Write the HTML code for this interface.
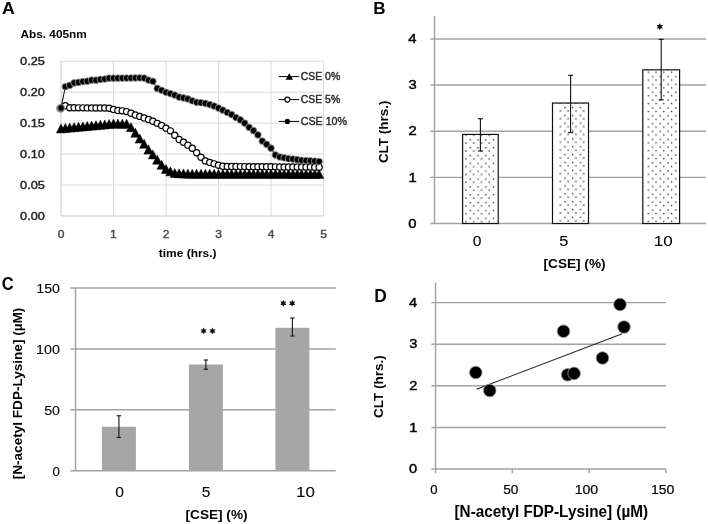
<!DOCTYPE html>
<html><head><meta charset="utf-8"><style>
html,body{margin:0;padding:0;background:#fff;}
svg{display:block;filter:grayscale(1);}
text{font-family:"Liberation Sans", sans-serif;}
</style></head><body>
<svg width="708" height="524" viewBox="0 0 708 524">
<rect width="708" height="524" fill="#fff"/>
<g stroke="#d9d9d9" stroke-width="1" fill="none">
<line x1="61" y1="185.05" x2="323.50" y2="185.05"/>
<line x1="61" y1="154.10" x2="323.50" y2="154.10"/>
<line x1="61" y1="123.15" x2="323.50" y2="123.15"/>
<line x1="61" y1="92.20" x2="323.50" y2="92.20"/>
<line x1="61" y1="61.25" x2="323.50" y2="61.25"/>
<line x1="113.50" y1="61.25" x2="113.50" y2="216.00"/>
<line x1="166.00" y1="61.25" x2="166.00" y2="216.00"/>
<line x1="218.50" y1="61.25" x2="218.50" y2="216.00"/>
<line x1="271.00" y1="61.25" x2="271.00" y2="216.00"/>
<line x1="323.50" y1="61.25" x2="323.50" y2="216.00"/>
</g>
<g stroke="#c8c8c8" stroke-width="1"><line x1="61.00" y1="61.25" x2="61.00" y2="216.00"/><line x1="61.00" y1="216.00" x2="323.50" y2="216.00"/></g>
<polyline points="61.00,128.41 65.38,128.01 69.75,127.61 74.12,127.20 78.50,126.80 82.88,126.40 87.25,126.00 91.62,125.60 96.00,125.19 100.38,124.79 104.75,124.39 109.12,123.99 113.50,123.58 117.88,123.65 122.25,123.71 126.62,123.77 131.00,127.15 135.38,132.70 139.75,138.62 144.12,143.78 148.50,149.55 152.88,154.44 157.25,159.63 161.62,164.85 166.00,168.91 170.38,171.36 174.75,173.01 179.12,173.31 183.50,173.47 187.88,173.63 192.25,173.78 196.62,173.79 201.00,173.79 205.38,173.80 209.75,173.80 214.12,173.80 218.50,173.81 222.88,173.81 227.25,173.82 231.62,173.82 236.00,173.83 240.38,173.83 244.75,173.83 249.12,173.84 253.50,173.84 257.88,173.85 262.25,173.85 266.62,173.85 271.00,173.86 275.38,173.86 279.75,173.87 284.12,173.87 288.50,173.87 292.88,173.88 297.25,173.88 301.62,173.89 306.00,173.89 310.38,173.90 314.75,173.90 319.12,173.90" fill="none" stroke="#000" stroke-width="1"/>
<g fill="#000" stroke="#000" stroke-width="0.5">
<path d="M56.40,132.91L61.00,123.91L65.60,132.91Z"/>
<path d="M60.77,132.51L65.38,123.51L69.97,132.51Z"/>
<path d="M65.15,132.11L69.75,123.11L74.35,132.11Z"/>
<path d="M69.53,131.70L74.12,122.70L78.72,131.70Z"/>
<path d="M73.90,131.30L78.50,122.30L83.10,131.30Z"/>
<path d="M78.28,130.90L82.88,121.90L87.47,130.90Z"/>
<path d="M82.65,130.50L87.25,121.50L91.85,130.50Z"/>
<path d="M87.03,130.10L91.62,121.10L96.22,130.10Z"/>
<path d="M91.40,129.69L96.00,120.69L100.60,129.69Z"/>
<path d="M95.78,129.29L100.38,120.29L104.97,129.29Z"/>
<path d="M100.15,128.89L104.75,119.89L109.35,128.89Z"/>
<path d="M104.53,128.49L109.12,119.49L113.72,128.49Z"/>
<path d="M108.90,128.08L113.50,119.08L118.10,128.08Z"/>
<path d="M113.28,128.15L117.88,119.15L122.47,128.15Z"/>
<path d="M117.65,128.21L122.25,119.21L126.85,128.21Z"/>
<path d="M122.03,128.27L126.62,119.27L131.22,128.27Z"/>
<path d="M126.40,131.65L131.00,122.65L135.60,131.65Z"/>
<path d="M130.78,137.20L135.38,128.20L139.97,137.20Z"/>
<path d="M135.15,143.12L139.75,134.12L144.35,143.12Z"/>
<path d="M139.53,148.28L144.12,139.28L148.72,148.28Z"/>
<path d="M143.90,154.05L148.50,145.05L153.10,154.05Z"/>
<path d="M148.28,158.94L152.88,149.94L157.47,158.94Z"/>
<path d="M152.65,164.13L157.25,155.13L161.85,164.13Z"/>
<path d="M157.03,169.35L161.62,160.35L166.22,169.35Z"/>
<path d="M161.40,173.41L166.00,164.41L170.60,173.41Z"/>
<path d="M165.78,175.86L170.38,166.86L174.97,175.86Z"/>
<path d="M170.15,177.51L174.75,168.51L179.35,177.51Z"/>
<path d="M174.53,177.81L179.12,168.81L183.72,177.81Z"/>
<path d="M178.90,177.97L183.50,168.97L188.10,177.97Z"/>
<path d="M183.28,178.13L187.88,169.13L192.47,178.13Z"/>
<path d="M187.65,178.28L192.25,169.28L196.85,178.28Z"/>
<path d="M192.03,178.29L196.62,169.29L201.22,178.29Z"/>
<path d="M196.40,178.29L201.00,169.29L205.60,178.29Z"/>
<path d="M200.78,178.30L205.38,169.30L209.97,178.30Z"/>
<path d="M205.15,178.30L209.75,169.30L214.35,178.30Z"/>
<path d="M209.53,178.30L214.12,169.30L218.72,178.30Z"/>
<path d="M213.90,178.31L218.50,169.31L223.10,178.31Z"/>
<path d="M218.28,178.31L222.88,169.31L227.47,178.31Z"/>
<path d="M222.65,178.32L227.25,169.32L231.85,178.32Z"/>
<path d="M227.03,178.32L231.62,169.32L236.22,178.32Z"/>
<path d="M231.40,178.33L236.00,169.33L240.60,178.33Z"/>
<path d="M235.78,178.33L240.38,169.33L244.97,178.33Z"/>
<path d="M240.15,178.33L244.75,169.33L249.35,178.33Z"/>
<path d="M244.53,178.34L249.12,169.34L253.72,178.34Z"/>
<path d="M248.90,178.34L253.50,169.34L258.10,178.34Z"/>
<path d="M253.28,178.35L257.88,169.35L262.48,178.35Z"/>
<path d="M257.65,178.35L262.25,169.35L266.85,178.35Z"/>
<path d="M262.02,178.35L266.62,169.35L271.23,178.35Z"/>
<path d="M266.40,178.36L271.00,169.36L275.60,178.36Z"/>
<path d="M270.77,178.36L275.38,169.36L279.98,178.36Z"/>
<path d="M275.15,178.37L279.75,169.37L284.35,178.37Z"/>
<path d="M279.52,178.37L284.12,169.37L288.73,178.37Z"/>
<path d="M283.90,178.37L288.50,169.37L293.10,178.37Z"/>
<path d="M288.27,178.38L292.88,169.38L297.48,178.38Z"/>
<path d="M292.65,178.38L297.25,169.38L301.85,178.38Z"/>
<path d="M297.02,178.39L301.62,169.39L306.23,178.39Z"/>
<path d="M301.40,178.39L306.00,169.39L310.60,178.39Z"/>
<path d="M305.77,178.40L310.38,169.40L314.98,178.40Z"/>
<path d="M310.15,178.40L314.75,169.40L319.35,178.40Z"/>
<path d="M314.52,178.40L319.12,169.40L323.73,178.40Z"/>
</g>
<polyline points="61.00,109.53 65.38,105.82 69.75,107.80 74.12,107.82 78.50,107.84 82.88,107.86 87.25,107.88 91.62,107.90 96.00,107.93 100.38,107.95 104.75,107.97 109.12,108.22 113.50,109.41 117.88,110.40 122.25,110.85 126.62,111.58 131.00,113.31 135.38,114.96 139.75,116.40 144.12,117.88 148.50,119.54 152.88,121.26 157.25,123.35 161.62,125.47 166.00,128.17 170.38,130.87 174.75,135.32 179.12,139.56 183.50,142.20 187.88,145.13 192.25,148.31 196.62,152.73 201.00,157.23 205.38,161.03 209.75,162.41 214.12,163.83 218.50,165.30 222.88,166.23 227.25,166.49 231.62,166.52 236.00,166.55 240.38,166.59 244.75,166.62 249.12,166.65 253.50,166.69 257.88,166.72 262.25,166.75 266.62,166.79 271.00,166.82 275.38,166.85 279.75,166.89 284.12,166.92 288.50,166.95 292.88,166.99 297.25,167.02 301.62,167.06 306.00,167.09 310.38,167.12 314.75,167.16 319.12,167.19" fill="none" stroke="#000" stroke-width="1"/>
<g fill="#fff" stroke="#000" stroke-width="1.2">
<circle cx="65.38" cy="105.82" r="3.1"/>
<circle cx="69.75" cy="107.80" r="3.1"/>
<circle cx="74.12" cy="107.82" r="3.1"/>
<circle cx="78.50" cy="107.84" r="3.1"/>
<circle cx="82.88" cy="107.86" r="3.1"/>
<circle cx="87.25" cy="107.88" r="3.1"/>
<circle cx="91.62" cy="107.90" r="3.1"/>
<circle cx="96.00" cy="107.93" r="3.1"/>
<circle cx="100.38" cy="107.95" r="3.1"/>
<circle cx="104.75" cy="107.97" r="3.1"/>
<circle cx="109.12" cy="108.22" r="3.1"/>
<circle cx="113.50" cy="109.41" r="3.1"/>
<circle cx="117.88" cy="110.40" r="3.1"/>
<circle cx="122.25" cy="110.85" r="3.1"/>
<circle cx="126.62" cy="111.58" r="3.1"/>
<circle cx="131.00" cy="113.31" r="3.1"/>
<circle cx="135.38" cy="114.96" r="3.1"/>
<circle cx="139.75" cy="116.40" r="3.1"/>
<circle cx="144.12" cy="117.88" r="3.1"/>
<circle cx="148.50" cy="119.54" r="3.1"/>
<circle cx="152.88" cy="121.26" r="3.1"/>
<circle cx="157.25" cy="123.35" r="3.1"/>
<circle cx="161.62" cy="125.47" r="3.1"/>
<circle cx="166.00" cy="128.17" r="3.1"/>
<circle cx="170.38" cy="130.87" r="3.1"/>
<circle cx="174.75" cy="135.32" r="3.1"/>
<circle cx="179.12" cy="139.56" r="3.1"/>
<circle cx="183.50" cy="142.20" r="3.1"/>
<circle cx="187.88" cy="145.13" r="3.1"/>
<circle cx="192.25" cy="148.31" r="3.1"/>
<circle cx="196.62" cy="152.73" r="3.1"/>
<circle cx="201.00" cy="157.23" r="3.1"/>
<circle cx="205.38" cy="161.03" r="3.1"/>
<circle cx="209.75" cy="162.41" r="3.1"/>
<circle cx="214.12" cy="163.83" r="3.1"/>
<circle cx="218.50" cy="165.30" r="3.1"/>
<circle cx="222.88" cy="166.23" r="3.1"/>
<circle cx="227.25" cy="166.49" r="3.1"/>
<circle cx="231.62" cy="166.52" r="3.1"/>
<circle cx="236.00" cy="166.55" r="3.1"/>
<circle cx="240.38" cy="166.59" r="3.1"/>
<circle cx="244.75" cy="166.62" r="3.1"/>
<circle cx="249.12" cy="166.65" r="3.1"/>
<circle cx="253.50" cy="166.69" r="3.1"/>
<circle cx="257.88" cy="166.72" r="3.1"/>
<circle cx="262.25" cy="166.75" r="3.1"/>
<circle cx="266.62" cy="166.79" r="3.1"/>
<circle cx="271.00" cy="166.82" r="3.1"/>
<circle cx="275.38" cy="166.85" r="3.1"/>
<circle cx="279.75" cy="166.89" r="3.1"/>
<circle cx="284.12" cy="166.92" r="3.1"/>
<circle cx="288.50" cy="166.95" r="3.1"/>
<circle cx="292.88" cy="166.99" r="3.1"/>
<circle cx="297.25" cy="167.02" r="3.1"/>
<circle cx="301.62" cy="167.06" r="3.1"/>
<circle cx="306.00" cy="167.09" r="3.1"/>
<circle cx="310.38" cy="167.12" r="3.1"/>
<circle cx="314.75" cy="167.16" r="3.1"/>
<circle cx="319.12" cy="167.19" r="3.1"/>
</g>
<circle cx="60.6" cy="108.3" r="4.4" fill="#8c8c8c"/>
<polyline points="61.00,107.98 65.38,86.69 69.75,85.33 74.12,82.91 78.50,82.42 82.88,81.62 87.25,81.18 91.62,80.13 96.00,80.19 100.38,79.39 104.75,79.01 109.12,78.21 113.50,78.21 117.88,78.16 122.25,78.10 126.62,78.05 131.00,77.99 135.38,77.94 139.75,77.86 144.12,78.12 148.50,80.10 152.88,81.29 157.25,88.42 161.62,90.30 166.00,92.26 170.38,93.58 174.75,95.10 179.12,97.05 183.50,97.94 187.88,98.97 192.25,100.76 196.62,102.30 201.00,102.68 205.38,103.29 209.75,104.62 214.12,106.12 218.50,108.09 222.88,110.16 227.25,112.46 231.62,114.57 236.00,117.55 240.38,119.93 244.75,123.17 249.12,127.38 253.50,130.68 257.88,134.90 262.25,141.08 266.62,144.32 271.00,148.15 275.38,154.97 279.75,156.99 284.12,157.83 288.50,158.68 292.88,159.04 297.25,159.71 301.62,160.32 306.00,160.56 310.38,160.81 314.75,161.18 319.12,161.56" fill="none" stroke="#000" stroke-width="1"/>
<g fill="#000" stroke="#9a9a9a" stroke-width="0.8">
<circle cx="61.00" cy="107.98" r="3.35"/>
<circle cx="65.38" cy="86.69" r="3.35"/>
<circle cx="69.75" cy="85.33" r="3.35"/>
<circle cx="74.12" cy="82.91" r="3.35"/>
<circle cx="78.50" cy="82.42" r="3.35"/>
<circle cx="82.88" cy="81.62" r="3.35"/>
<circle cx="87.25" cy="81.18" r="3.35"/>
<circle cx="91.62" cy="80.13" r="3.35"/>
<circle cx="96.00" cy="80.19" r="3.35"/>
<circle cx="100.38" cy="79.39" r="3.35"/>
<circle cx="104.75" cy="79.01" r="3.35"/>
<circle cx="109.12" cy="78.21" r="3.35"/>
<circle cx="113.50" cy="78.21" r="3.35"/>
<circle cx="117.88" cy="78.16" r="3.35"/>
<circle cx="122.25" cy="78.10" r="3.35"/>
<circle cx="126.62" cy="78.05" r="3.35"/>
<circle cx="131.00" cy="77.99" r="3.35"/>
<circle cx="135.38" cy="77.94" r="3.35"/>
<circle cx="139.75" cy="77.86" r="3.35"/>
<circle cx="144.12" cy="78.12" r="3.35"/>
<circle cx="148.50" cy="80.10" r="3.35"/>
<circle cx="152.88" cy="81.29" r="3.35"/>
<circle cx="157.25" cy="88.42" r="3.35"/>
<circle cx="161.62" cy="90.30" r="3.35"/>
<circle cx="166.00" cy="92.26" r="3.35"/>
<circle cx="170.38" cy="93.58" r="3.35"/>
<circle cx="174.75" cy="95.10" r="3.35"/>
<circle cx="179.12" cy="97.05" r="3.35"/>
<circle cx="183.50" cy="97.94" r="3.35"/>
<circle cx="187.88" cy="98.97" r="3.35"/>
<circle cx="192.25" cy="100.76" r="3.35"/>
<circle cx="196.62" cy="102.30" r="3.35"/>
<circle cx="201.00" cy="102.68" r="3.35"/>
<circle cx="205.38" cy="103.29" r="3.35"/>
<circle cx="209.75" cy="104.62" r="3.35"/>
<circle cx="214.12" cy="106.12" r="3.35"/>
<circle cx="218.50" cy="108.09" r="3.35"/>
<circle cx="222.88" cy="110.16" r="3.35"/>
<circle cx="227.25" cy="112.46" r="3.35"/>
<circle cx="231.62" cy="114.57" r="3.35"/>
<circle cx="236.00" cy="117.55" r="3.35"/>
<circle cx="240.38" cy="119.93" r="3.35"/>
<circle cx="244.75" cy="123.17" r="3.35"/>
<circle cx="249.12" cy="127.38" r="3.35"/>
<circle cx="253.50" cy="130.68" r="3.35"/>
<circle cx="257.88" cy="134.90" r="3.35"/>
<circle cx="262.25" cy="141.08" r="3.35"/>
<circle cx="266.62" cy="144.32" r="3.35"/>
<circle cx="271.00" cy="148.15" r="3.35"/>
<circle cx="275.38" cy="154.97" r="3.35"/>
<circle cx="279.75" cy="156.99" r="3.35"/>
<circle cx="284.12" cy="157.83" r="3.35"/>
<circle cx="288.50" cy="158.68" r="3.35"/>
<circle cx="292.88" cy="159.04" r="3.35"/>
<circle cx="297.25" cy="159.71" r="3.35"/>
<circle cx="301.62" cy="160.32" r="3.35"/>
<circle cx="306.00" cy="160.56" r="3.35"/>
<circle cx="310.38" cy="160.81" r="3.35"/>
<circle cx="314.75" cy="161.18" r="3.35"/>
<circle cx="319.12" cy="161.56" r="3.35"/>
</g>
<line x1="278.8" y1="76.6" x2="299.2" y2="76.6" stroke="#000" stroke-width="1"/>
<line x1="278.8" y1="99.6" x2="299.2" y2="99.6" stroke="#000" stroke-width="1"/>
<line x1="278.8" y1="121.4" x2="299.2" y2="121.4" stroke="#000" stroke-width="1"/>
<path d="M285.6,79.7L289.3,73.3L293.0,79.7Z" fill="#000"/>
<circle cx="287.4" cy="99.6" r="2.5" fill="#fff" stroke="#000" stroke-width="1.2"/>
<circle cx="287.3" cy="121.4" r="2.6" fill="#000"/>
<text x="300.83" y="80.15" font-size="10.14" font-weight="normal" textLength="39.33" lengthAdjust="spacingAndGlyphs" fill="#262626" stroke="#262626" stroke-width="0.4">CSE 0%</text>
<text x="300.83" y="103.35" font-size="10.00" font-weight="normal" textLength="39.33" lengthAdjust="spacingAndGlyphs" fill="#262626" stroke="#262626" stroke-width="0.4">CSE 5%</text>
<text x="300.82" y="125.45" font-size="11.43" font-weight="normal" textLength="46.21" lengthAdjust="spacingAndGlyphs" fill="#262626" stroke="#262626" stroke-width="0.4">CSE 10%</text>
<text x="20.14" y="65.05" font-size="10.86" font-weight="normal" textLength="24.80" lengthAdjust="spacingAndGlyphs" fill="#1e1e1e" stroke="#1e1e1e" stroke-width="0.4">0.25</text>
<text x="20.14" y="96.00" font-size="10.86" font-weight="normal" textLength="24.67" lengthAdjust="spacingAndGlyphs" fill="#1e1e1e" stroke="#1e1e1e" stroke-width="0.4">0.20</text>
<text x="20.14" y="126.95" font-size="10.86" font-weight="normal" textLength="24.80" lengthAdjust="spacingAndGlyphs" fill="#1e1e1e" stroke="#1e1e1e" stroke-width="0.4">0.15</text>
<text x="20.14" y="157.90" font-size="10.86" font-weight="normal" textLength="24.67" lengthAdjust="spacingAndGlyphs" fill="#1e1e1e" stroke="#1e1e1e" stroke-width="0.4">0.10</text>
<text x="20.14" y="188.85" font-size="10.86" font-weight="normal" textLength="24.80" lengthAdjust="spacingAndGlyphs" fill="#1e1e1e" stroke="#1e1e1e" stroke-width="0.4">0.05</text>
<text x="20.14" y="219.80" font-size="10.86" font-weight="normal" textLength="24.67" lengthAdjust="spacingAndGlyphs" fill="#1e1e1e" stroke="#1e1e1e" stroke-width="0.4">0.00</text>
<text x="57.73" y="238.05" font-size="10.29" font-weight="normal" textLength="6.69" lengthAdjust="spacingAndGlyphs" fill="#4a4a4a" stroke="#4a4a4a" stroke-width="0.4">0</text>
<text x="110.05" y="238.05" font-size="10.29" font-weight="normal" textLength="6.69" lengthAdjust="spacingAndGlyphs" fill="#4a4a4a" stroke="#4a4a4a" stroke-width="0.4">1</text>
<text x="162.73" y="238.05" font-size="10.29" font-weight="normal" textLength="6.69" lengthAdjust="spacingAndGlyphs" fill="#4a4a4a" stroke="#4a4a4a" stroke-width="0.4">2</text>
<text x="215.29" y="238.05" font-size="10.29" font-weight="normal" textLength="6.69" lengthAdjust="spacingAndGlyphs" fill="#4a4a4a" stroke="#4a4a4a" stroke-width="0.4">3</text>
<text x="267.79" y="238.05" font-size="10.29" font-weight="normal" textLength="6.69" lengthAdjust="spacingAndGlyphs" fill="#4a4a4a" stroke="#4a4a4a" stroke-width="0.4">4</text>
<text x="320.29" y="238.05" font-size="10.29" font-weight="normal" textLength="6.69" lengthAdjust="spacingAndGlyphs" fill="#4a4a4a" stroke="#4a4a4a" stroke-width="0.4">5</text>
<text x="158.73" y="256.95" font-size="11.37" font-weight="bold" textLength="57.87" lengthAdjust="spacingAndGlyphs" fill="#000">time (hrs.)</text>
<text x="20.50" y="37.75" font-size="11.64" font-weight="bold" textLength="66.30" lengthAdjust="spacingAndGlyphs" fill="#000">Abs. 405nm</text>
<text x="1.92" y="14.15" font-size="16.62" font-weight="bold" textLength="12.80" lengthAdjust="spacingAndGlyphs" fill="#000">A</text>
<g stroke="#a2a2a2" stroke-width="1.45">
<line x1="430.3" y1="223.50" x2="706" y2="223.50"/>
<line x1="430.3" y1="177.35" x2="706" y2="177.35"/>
<line x1="430.3" y1="131.20" x2="706" y2="131.20"/>
<line x1="430.3" y1="85.05" x2="706" y2="85.05"/>
<line x1="430.3" y1="38.90" x2="706" y2="38.90"/>
<line x1="434.5" y1="16" x2="434.5" y2="223.50"/>
</g>
<defs>
<pattern id="dots0" x="464.00" y="141.10" width="7.75" height="7.85" patternUnits="userSpaceOnUse"><rect x="1.32" y="1.32" width="1.35" height="1.35" fill="#2e2e2e"/><rect x="5.62" y="5.88" width="1.35" height="1.35" fill="#2e2e2e"/></pattern>
<pattern id="dots1" x="558.40" y="108.90" width="7.75" height="7.85" patternUnits="userSpaceOnUse"><rect x="1.32" y="1.32" width="1.35" height="1.35" fill="#2e2e2e"/><rect x="5.83" y="5.78" width="1.35" height="1.35" fill="#2e2e2e"/></pattern>
<pattern id="dots2" x="650.60" y="74.60" width="7.75" height="7.85" patternUnits="userSpaceOnUse"><rect x="1.32" y="1.32" width="1.35" height="1.35" fill="#2e2e2e"/><rect x="4.78" y="4.78" width="1.35" height="1.35" fill="#2e2e2e"/></pattern>
</defs>
<rect x="462.60" y="134.43" width="35.60" height="89.07" fill="#fff" stroke="none"/>
<rect x="464.50" y="134.43" width="30.70" height="89.07" fill="url(#dots0)"/>
<rect x="462.60" y="134.43" width="35.60" height="89.07" fill="none" stroke="#111" stroke-width="1.2"/>
<rect x="552.50" y="103.05" width="36.00" height="120.45" fill="#fff" stroke="none"/>
<rect x="559.00" y="103.05" width="26.50" height="120.45" fill="url(#dots1)"/>
<rect x="552.50" y="103.05" width="36.00" height="120.45" fill="none" stroke="#111" stroke-width="1.2"/>
<rect x="642.80" y="69.82" width="36.80" height="153.68" fill="#fff" stroke="none"/>
<rect x="647.00" y="69.82" width="30.50" height="153.68" fill="url(#dots2)"/>
<rect x="642.80" y="69.82" width="36.80" height="153.68" fill="none" stroke="#111" stroke-width="1.2"/>
<g stroke="#111" stroke-width="1.1"><line x1="480.40" y1="151.04" x2="480.40" y2="118.74"/><line x1="477.90" y1="151.04" x2="482.90" y2="151.04"/><line x1="477.90" y1="118.74" x2="482.90" y2="118.74"/></g>
<g stroke="#111" stroke-width="1.1"><line x1="570.60" y1="132.58" x2="570.60" y2="75.36"/><line x1="568.10" y1="132.58" x2="573.10" y2="132.58"/><line x1="568.10" y1="75.36" x2="573.10" y2="75.36"/></g>
<g stroke="#111" stroke-width="1.1"><line x1="661.20" y1="99.82" x2="661.20" y2="39.36"/><line x1="658.70" y1="99.82" x2="663.70" y2="99.82"/><line x1="658.70" y1="39.36" x2="663.70" y2="39.36"/></g>
<polygon points="659.80,23.10 660.75,25.05 662.92,24.90 661.70,26.70 662.92,28.50 660.75,28.35 659.80,30.30 658.85,28.35 656.68,28.50 657.90,26.70 656.68,24.90 658.85,25.05" fill="#111"/>
<text x="408.34" y="227.65" font-size="11.86" font-weight="normal" textLength="8.24" lengthAdjust="spacingAndGlyphs" fill="#000" stroke="#000" stroke-width="0.4">0</text>
<text x="408.49" y="181.50" font-size="11.86" font-weight="normal" textLength="8.24" lengthAdjust="spacingAndGlyphs" fill="#000" stroke="#000" stroke-width="0.4">1</text>
<text x="408.49" y="135.35" font-size="11.86" font-weight="normal" textLength="8.24" lengthAdjust="spacingAndGlyphs" fill="#000" stroke="#000" stroke-width="0.4">2</text>
<text x="408.49" y="89.20" font-size="11.86" font-weight="normal" textLength="8.24" lengthAdjust="spacingAndGlyphs" fill="#000" stroke="#000" stroke-width="0.4">3</text>
<text x="408.19" y="43.05" font-size="11.86" font-weight="normal" textLength="8.24" lengthAdjust="spacingAndGlyphs" fill="#000" stroke="#000" stroke-width="0.4">4</text>
<text x="472.73" y="245.85" font-size="13.86" font-weight="normal" textLength="8.69" lengthAdjust="spacingAndGlyphs" fill="#000" stroke="#000" stroke-width="0.08">0</text>
<text x="559.19" y="245.85" font-size="13.86" font-weight="normal" textLength="9.11" lengthAdjust="spacingAndGlyphs" fill="#000" stroke="#000" stroke-width="0.08">5</text>
<text x="653.74" y="245.85" font-size="13.86" font-weight="normal" textLength="18.88" lengthAdjust="spacingAndGlyphs" fill="#000" stroke="#000" stroke-width="0.08">10</text>
<text x="543.53" y="268.15" font-size="12.86" font-weight="bold" textLength="62.03" lengthAdjust="spacingAndGlyphs" fill="#000">[CSE] (%)</text>
<text x="0" y="0" transform="translate(388.25,163.09) rotate(-90)" font-size="12.86" font-weight="bold" textLength="62.48" lengthAdjust="spacingAndGlyphs" fill="#000">CLT (hrs.)</text>
<text x="373.16" y="13.95" font-size="16.52" font-weight="bold" textLength="12.31" lengthAdjust="spacingAndGlyphs" fill="#000">B</text>
<g stroke="#a2a2a2" stroke-width="1.45">
<line x1="70.3" y1="470.75" x2="335.75" y2="470.75"/>
<line x1="70.3" y1="409.83" x2="335.75" y2="409.83"/>
<line x1="70.3" y1="348.92" x2="335.75" y2="348.92"/>
<line x1="70.3" y1="288.00" x2="335.75" y2="288.00"/>
<line x1="75.5" y1="288.00" x2="75.5" y2="470.75"/>
</g>
<rect x="101.90" y="426.75" width="34" height="44.00" fill="#a6a6a6"/>
<g stroke="#111" stroke-width="1.1"><line x1="118.90" y1="415.75" x2="118.90" y2="437.5"/><line x1="116.70" y1="415.75" x2="121.10" y2="415.75"/><line x1="116.70" y1="437.5" x2="121.10" y2="437.5"/></g>
<rect x="188.90" y="364.5" width="34" height="106.25" fill="#a6a6a6"/>
<g stroke="#111" stroke-width="1.1"><line x1="205.90" y1="360" x2="205.90" y2="369.25"/><line x1="203.70" y1="360" x2="208.10" y2="360"/><line x1="203.70" y1="369.25" x2="208.10" y2="369.25"/></g>
<rect x="275.40" y="327.75" width="34" height="143.00" fill="#a6a6a6"/>
<g stroke="#111" stroke-width="1.1"><line x1="292.40" y1="318" x2="292.40" y2="336"/><line x1="290.20" y1="318" x2="294.60" y2="318"/><line x1="290.20" y1="336" x2="294.60" y2="336"/></g>
<polygon points="203.60,327.50 204.53,329.40 206.63,329.25 205.45,331.00 206.63,332.75 204.53,332.60 203.60,334.50 202.67,332.60 200.57,332.75 201.75,331.00 200.57,329.25 202.67,329.40" fill="#111"/>
<polygon points="212.50,327.50 213.43,329.40 215.53,329.25 214.35,331.00 215.53,332.75 213.43,332.60 212.50,334.50 211.57,332.60 209.47,332.75 210.65,331.00 209.47,329.25 211.57,329.40" fill="#111"/>
<polygon points="283.30,299.80 284.23,301.70 286.33,301.55 285.15,303.30 286.33,305.05 284.23,304.90 283.30,306.80 282.38,304.90 280.27,305.05 281.45,303.30 280.27,301.55 282.38,301.70" fill="#111"/>
<polygon points="292.20,299.80 293.12,301.70 295.23,301.55 294.05,303.30 295.23,305.05 293.12,304.90 292.20,306.80 291.27,304.90 289.17,305.05 290.35,303.30 289.17,301.55 291.27,301.70" fill="#111"/>
<text x="36.31" y="292.75" font-size="13.57" font-weight="normal" textLength="23.68" lengthAdjust="spacingAndGlyphs" fill="#000" stroke="#000" stroke-width="0.08">150</text>
<text x="36.10" y="353.67" font-size="13.57" font-weight="normal" textLength="23.90" lengthAdjust="spacingAndGlyphs" fill="#000" stroke="#000" stroke-width="0.08">100</text>
<text x="44.18" y="414.58" font-size="13.57" font-weight="normal" textLength="15.88" lengthAdjust="spacingAndGlyphs" fill="#000" stroke="#000" stroke-width="0.08">50</text>
<text x="52.52" y="475.50" font-size="13.57" font-weight="normal" textLength="7.42" lengthAdjust="spacingAndGlyphs" fill="#000" stroke="#000" stroke-width="0.08">0</text>
<text x="115.22" y="496.65" font-size="14.00" font-weight="normal" textLength="8.75" lengthAdjust="spacingAndGlyphs" fill="#000" stroke="#000" stroke-width="0.08">0</text>
<text x="201.73" y="496.65" font-size="14.00" font-weight="normal" textLength="8.64" lengthAdjust="spacingAndGlyphs" fill="#000" stroke="#000" stroke-width="0.08">5</text>
<text x="295.99" y="496.65" font-size="14.00" font-weight="normal" textLength="18.88" lengthAdjust="spacingAndGlyphs" fill="#000" stroke="#000" stroke-width="0.08">10</text>
<text x="185.53" y="518.55" font-size="13.00" font-weight="bold" textLength="62.03" lengthAdjust="spacingAndGlyphs" fill="#000">[CSE] (%)</text>
<text x="0" y="0" transform="translate(21.65,479.26) rotate(-90)" font-size="12.00" font-weight="bold" textLength="171.61" lengthAdjust="spacingAndGlyphs" fill="#000">[N-acetyl FDP-Lysine] (µM)</text>
<text x="1.69" y="290.25" font-size="17.89" font-weight="bold" textLength="11.89" lengthAdjust="spacingAndGlyphs" fill="#000">C</text>
<g stroke="#a2a2a2" stroke-width="1.45">
<line x1="431.4" y1="469.00" x2="666" y2="469.00"/>
<line x1="431.4" y1="427.40" x2="666" y2="427.40"/>
<line x1="431.4" y1="385.80" x2="666" y2="385.80"/>
<line x1="431.4" y1="344.20" x2="666" y2="344.20"/>
<line x1="431.4" y1="302.60" x2="666" y2="302.60"/>
<line x1="435.5" y1="282.5" x2="435.5" y2="469.00"/>
<line x1="435.50" y1="469.00" x2="435.50" y2="473.3"/>
<line x1="512.34" y1="469.00" x2="512.34" y2="473.3"/>
<line x1="589.17" y1="469.00" x2="589.17" y2="473.3"/>
<line x1="666.00" y1="469.00" x2="666.00" y2="473.3"/>
</g>
<line x1="476.5" y1="389.25" x2="622.25" y2="333.75" stroke="#222" stroke-width="1.1"/>
<circle cx="475.75" cy="372.5" r="6.3" fill="#000" stroke="#9a9a9a" stroke-width="0.8"/>
<circle cx="489.75" cy="390.5" r="6.3" fill="#000" stroke="#9a9a9a" stroke-width="0.8"/>
<circle cx="563.5" cy="331.25" r="6.3" fill="#000" stroke="#9a9a9a" stroke-width="0.8"/>
<circle cx="620" cy="304.5" r="6.3" fill="#000" stroke="#9a9a9a" stroke-width="0.8"/>
<circle cx="624" cy="327" r="6.3" fill="#000" stroke="#9a9a9a" stroke-width="0.8"/>
<circle cx="602.5" cy="358" r="6.3" fill="#000" stroke="#9a9a9a" stroke-width="0.8"/>
<circle cx="567.6" cy="374.8" r="6.3" fill="#000" stroke="#9a9a9a" stroke-width="0.8"/>
<circle cx="574.1" cy="373.4" r="6.3" fill="#000" stroke="#9a9a9a" stroke-width="0.8"/>
<text x="409.07" y="473.25" font-size="12.14" font-weight="normal" textLength="8.11" lengthAdjust="spacingAndGlyphs" fill="#000" stroke="#000" stroke-width="0.4">0</text>
<text x="409.22" y="431.65" font-size="12.14" font-weight="normal" textLength="8.11" lengthAdjust="spacingAndGlyphs" fill="#000" stroke="#000" stroke-width="0.4">1</text>
<text x="409.22" y="390.05" font-size="12.14" font-weight="normal" textLength="8.11" lengthAdjust="spacingAndGlyphs" fill="#000" stroke="#000" stroke-width="0.4">2</text>
<text x="409.22" y="348.45" font-size="12.14" font-weight="normal" textLength="8.11" lengthAdjust="spacingAndGlyphs" fill="#000" stroke="#000" stroke-width="0.4">3</text>
<text x="408.93" y="306.85" font-size="12.14" font-weight="normal" textLength="8.11" lengthAdjust="spacingAndGlyphs" fill="#000" stroke="#000" stroke-width="0.4">4</text>
<text x="430.23" y="494.35" font-size="13.14" font-weight="normal" textLength="7.30" lengthAdjust="spacingAndGlyphs" fill="#000" stroke="#000" stroke-width="0.2">0</text>
<text x="503.20" y="494.35" font-size="13.14" font-weight="normal" textLength="15.23" lengthAdjust="spacingAndGlyphs" fill="#000" stroke="#000" stroke-width="0.2">50</text>
<text x="574.72" y="494.35" font-size="13.14" font-weight="normal" textLength="23.47" lengthAdjust="spacingAndGlyphs" fill="#000" stroke="#000" stroke-width="0.2">100</text>
<text x="650.97" y="494.35" font-size="13.14" font-weight="normal" textLength="23.47" lengthAdjust="spacingAndGlyphs" fill="#000" stroke="#000" stroke-width="0.2">150</text>
<text x="454.53" y="517.15" font-size="15.57" font-weight="bold" textLength="193.60" lengthAdjust="spacingAndGlyphs" fill="#000">[N-acetyl FDP-Lysine] (µM)</text>
<text x="0" y="0" transform="translate(383.40,418.09) rotate(-90)" font-size="12.93" font-weight="bold" textLength="62.78" lengthAdjust="spacingAndGlyphs" fill="#000">CLT (hrs.)</text>
<text x="374.13" y="301.65" font-size="18.41" font-weight="bold" textLength="12.55" lengthAdjust="spacingAndGlyphs" fill="#000">D</text>
</svg>
</body></html>
